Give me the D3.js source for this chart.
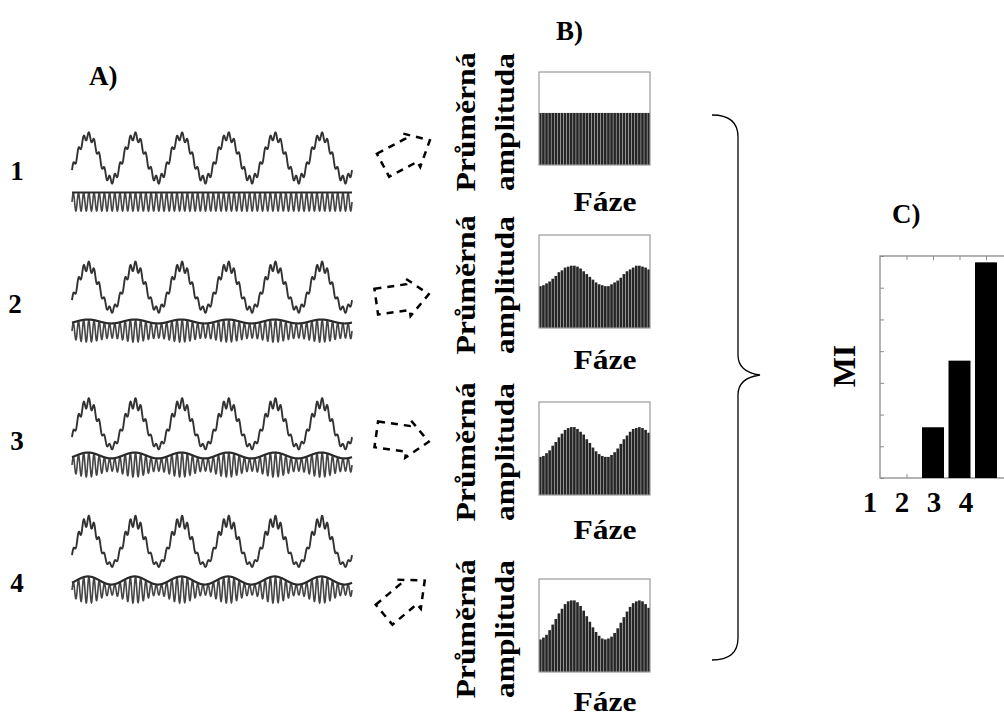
<!DOCTYPE html>
<html>
<head>
<meta charset="utf-8" />
<script src="https://cdn.jsdelivr.net/npm/d3@7"></script>
<style>
  body { margin: 0; background: #fff; }
  text { font-family: "Liberation Serif", "Times New Roman", serif; font-weight: bold; fill: #000; }
</style>
</head>
<body>
<svg id="chart" width="1004" height="720"></svg>
<script>
// row names (panels A and B)
const rowLabels = ["1", "2", "3", "4"];

// panel A: how strongly the fast wave amplitude follows the slow phase, per row
const coupling = [0, 0.22, 0.33, 0.45];
const slowCycles = 6;
const fastPerSlow = 9;

// panel B: mean amplitude per phase bin (36 bins, two phase cycles), per row
const ampRow1 = [56, 56, 56, 56, 56, 56, 56, 56, 56, 56, 56, 56, 56, 56, 56, 56, 56, 56,
                 56, 56, 56, 56, 56, 56, 56, 56, 56, 56, 56, 56, 56, 56, 56, 56, 56, 56];
const ampRow2 = [45, 46, 48, 50, 53, 56, 60, 62, 65, 66, 67, 67, 66, 64, 61, 58, 55, 52,
                 49, 47, 46, 45, 45, 47, 49, 51, 54, 58, 61, 63, 65, 67, 67, 66, 65, 63];
const ampRow3 = [41, 42, 45, 48, 53, 57, 62, 66, 70, 72, 73, 73, 71, 68, 65, 60, 56, 51,
                 47, 44, 42, 41, 41, 43, 46, 50, 55, 60, 64, 68, 71, 72, 73, 72, 70, 67];
const ampRow4 = [35, 37, 40, 45, 51, 57, 63, 68, 73, 76, 77, 77, 75, 71, 66, 60, 54, 48,
                 43, 39, 36, 35, 36, 38, 42, 47, 53, 59, 65, 70, 74, 76, 77, 76, 73, 69];
const ampRows = [ampRow1, ampRow2, ampRow3, ampRow4];

// panel C: modulation index per row
const miLabels = ["1", "2", "3", "4"];
const miValues = [0, 1.6, 3.7, 6.8];

const svg = d3.select("#chart");

// soft blur, the original signals are fuzzy
svg.append("defs").append("filter").attr("id", "soft")
  .append("feGaussianBlur").attr("stdDeviation", 0.45);

// ---------- panel A ----------
svg.append("text").attr("x", 89).attr("y", 85).attr("font-size", 27).text("A)");

const rowLabelY = [180, 313, 450, 592];
const rowLabelX = [17, 15, 17, 17];
rowLabels.forEach((lab, i) => {
  svg.append("text").attr("x", rowLabelX[i]).attr("y", rowLabelY[i])
    .attr("font-size", 27).attr("text-anchor", "middle").text(lab);
});

const sigX = d3.scaleLinear().domain([0, 1]).range([72, 352]);
const waveCenter = [158, 288, 425, 543];
const bandCenter = [202, 331, 465, 590];
const samples = d3.range(0, 1.0001, 1 / 1600);
const slowPhase = t => 2 * Math.PI * slowCycles * t - 0.58;
const fastPhase = t => 2 * Math.PI * slowCycles * fastPerSlow * t;

const gA = svg.append("g").attr("filter", "url(#soft)");
coupling.forEach((m, i) => {
  const wy = d3.scaleLinear().domain([-1, 1]).range([waveCenter[i] + 22, waveCenter[i] - 22]);
  const by = d3.scaleLinear().domain([-1, 1]).range([bandCenter[i] + 9, bandCenter[i] - 9]);
  const env = t => 1 + m * Math.sin(slowPhase(t));

  const wave = d3.line()
    .x(t => sigX(t))
    .y(t => wy(Math.sin(slowPhase(t)) + 0.17 * env(t) * Math.sin(fastPhase(t))));
  const osc = d3.line()
    .x(t => sigX(t))
    .y(t => by(env(t) * Math.sin(fastPhase(t))));
  const top = d3.line()
    .x(t => sigX(t))
    .y(t => by(env(t)) - 0.5);

  gA.append("path").attr("d", wave(samples)).attr("fill", "none")
    .attr("stroke", "#333").attr("stroke-width", 1.9);
  gA.append("path").attr("d", osc(samples)).attr("fill", "none")
    .attr("stroke", "#444").attr("stroke-width", 1.6);
  gA.append("path").attr("d", top(samples)).attr("fill", "none")
    .attr("stroke", "#2a2a2a").attr("stroke-width", 2.2);
});

// dashed block arrows between A and B
const arrowShape = [[-26, -13], [6, -13], [6, -19], [27, 0], [6, 19], [6, 13], [-26, 13]];
const arrowPlace = [
  { x: 406, y: 153, rot: -28 },
  { x: 402, y: 298, rot: -8 },
  { x: 402, y: 438, rot: 8 },
  { x: 404, y: 598, rot: -40 }
];
arrowPlace.forEach(a => {
  svg.append("path")
    .attr("d", d3.line()(arrowShape) + "Z")
    .attr("transform", `translate(${a.x},${a.y}) rotate(${a.rot})`)
    .attr("fill", "none").attr("stroke", "#000")
    .attr("stroke-width", 2.5).attr("stroke-dasharray", "7,6");
});

// ---------- panel B ----------
svg.append("text").attr("x", 556).attr("y", 40).attr("font-size", 27).text("B)");

const boxTop = [72, 235, 402, 579];
const fazeOffset = [46, 41, 44, 39];
const boxH = 93;
const xB = d3.scaleBand().domain(d3.range(36)).range([539, 650]).paddingInner(0.14);

ampRows.forEach((vals, i) => {
  const y0 = boxTop[i], y1 = boxTop[i] + boxH;
  const yB = d3.scaleLinear().domain([0, 100]).range([y1, y0]);
  const g = svg.append("g");

  g.selectAll("rect.bin").data(vals).join("rect")
    .attr("class", "bin")
    .attr("x", (d, j) => xB(j))
    .attr("width", xB.bandwidth())
    .attr("y", d => yB(d))
    .attr("height", d => yB(0) - yB(d))
    .attr("fill", "#262626");

  g.append("rect").attr("x", 539).attr("y", y0).attr("width", 111).attr("height", boxH)
    .attr("fill", "none").attr("stroke", "#9a9a9a").attr("stroke-width", 1.2);

  const cy = y0 + 50;
  svg.append("text").attr("transform", `translate(475,${cy}) rotate(-90)`)
    .attr("text-anchor", "middle").attr("font-size", 27)
    .attr("textLength", 139).attr("lengthAdjust", "spacingAndGlyphs").text("Průměrná");
  svg.append("text").attr("transform", `translate(514,${cy}) rotate(-90)`)
    .attr("text-anchor", "middle").attr("font-size", 27)
    .attr("textLength", 138).attr("lengthAdjust", "spacingAndGlyphs").text("amplituda");
  svg.append("text").attr("x", 605).attr("y", y1 + fazeOffset[i])
    .attr("text-anchor", "middle").attr("font-size", 28)
    .attr("textLength", 63).attr("lengthAdjust", "spacingAndGlyphs").text("Fáze");
});

// curly brace
svg.append("path")
  .attr("d", "M712,115 Q738,115 738,137 L738,355 Q738,372 760,375 Q738,378 738,395 L738,638 Q738,660 712,660")
  .attr("fill", "none").attr("stroke", "#000").attr("stroke-width", 1.3);

// ---------- panel C ----------
svg.append("text").attr("x", 892).attr("y", 223).attr("font-size", 27).text("C)");

const xC = d3.scaleLinear().domain([0, 5]).range([880, 1012.5]);
const yC = d3.scaleLinear().domain([0, 7]).range([478, 256]);
const gC = svg.append("g");

gC.append("rect").attr("x", xC(0)).attr("y", yC(7))
  .attr("width", xC(5) - xC(0)).attr("height", yC(0) - yC(7))
  .attr("fill", "none").attr("stroke", "#8c8c8c").attr("stroke-width", 1.3);

const tickStyle = sel => {
  sel.select(".domain").remove();
  sel.selectAll(".tick line").attr("stroke", "#8c8c8c");
};
gC.append("g").attr("transform", `translate(${xC(0)},0)`)
  .call(d3.axisLeft(yC).ticks(7).tickSize(-4).tickFormat("")).call(tickStyle);
gC.append("g").attr("transform", `translate(0,${yC(7)})`)
  .call(d3.axisTop(xC).tickValues([1, 2, 3, 4]).tickSize(-4).tickFormat("")).call(tickStyle);
gC.append("g").attr("transform", `translate(0,${yC(0)})`)
  .call(d3.axisBottom(xC).tickValues([1, 2, 3, 4]).tickSize(-4).tickFormat("")).call(tickStyle);

gC.selectAll("rect.mi").data(miValues).join("rect")
  .attr("class", "mi")
  .attr("x", (d, i) => xC(i + 1) - 11)
  .attr("width", 22)
  .attr("y", d => yC(d))
  .attr("height", d => yC(0) - yC(d))
  .attr("fill", "#000");

miLabels.forEach((lab, i) => {
  svg.append("text").attr("x", 870 + i * 32).attr("y", 512)
    .attr("text-anchor", "middle").attr("font-size", 29).text(lab);
});

svg.append("text").attr("transform", "translate(855,366) rotate(-90)")
  .attr("text-anchor", "middle").attr("font-size", 32).text("MI");
</script>
</body>
</html>
